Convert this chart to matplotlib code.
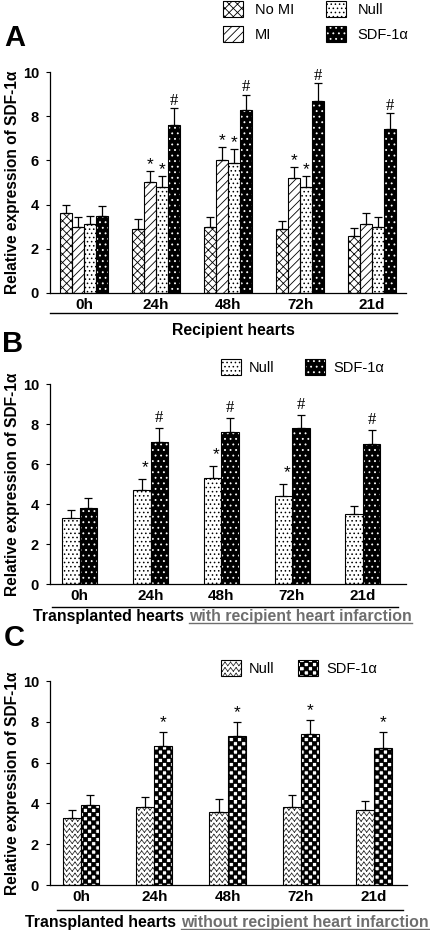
import warnings
import matplotlib
matplotlib.use("Agg")
import matplotlib.pyplot as plt
import numpy as np
from matplotlib import hatch as mhatch
from matplotlib.path import Path
from matplotlib.lines import Line2D
from matplotlib.patches import Rectangle

warnings.filterwarnings("ignore")

plt.rcParams["font.family"] = ["Liberation Sans", "DejaVu Sans"]
plt.rcParams["hatch.linewidth"] = 0.6

times = ["0h", "24h", "48h", "72h", "21d"]

# --- Panel A: recipient hearts ---
a_names = ["No MI", "MI", "Null", "SDF-1\u03b1"]
a_no_mi = [3.6, 2.9, 3.0, 2.9, 2.6]
a_mi = [3.0, 5.0, 6.0, 5.2, 3.1]
a_null = [3.1, 4.8, 5.9, 4.8, 3.0]
a_sdf = [3.5, 7.6, 8.3, 8.7, 7.4]
a_no_mi_err = [0.4, 0.45, 0.42, 0.38, 0.35]
a_mi_err = [0.42, 0.5, 0.6, 0.5, 0.5]
a_null_err = [0.4, 0.5, 0.6, 0.5, 0.42]
a_sdf_err = [0.42, 0.77, 0.68, 0.78, 0.75]
a_star = ["", "*", "*", "*", ""]
a_hash = ["", "#", "#", "#", "#"]

# --- Panel B: transplanted hearts, with recipient infarction ---
b_names = ["Null", "SDF-1\u03b1"]
b_null = [3.3, 4.7, 5.3, 4.4, 3.5]
b_null_err = [0.38, 0.55, 0.6, 0.58, 0.38]
b_sdf = [3.8, 7.1, 7.6, 7.8, 7.0]
b_sdf_err = [0.48, 0.7, 0.7, 0.65, 0.68]
b_star = ["", "*", "*", "*", ""]
b_hash = ["", "#", "#", "#", "#"]

# --- Panel C: transplanted hearts, without recipient infarction ---
c_names = ["Null", "SDF-1\u03b1"]
c_null = [3.3, 3.8, 3.6, 3.8, 3.7]
c_null_err = [0.4, 0.52, 0.6, 0.62, 0.41]
c_sdf = [3.9, 6.8, 7.3, 7.4, 6.7]
c_sdf_err = [0.52, 0.7, 0.7, 0.7, 0.8]
c_star = ["", "*", "*", "*", "*"]


# custom hatches: zigzag ('z') and checkerboard ('k')
class ZigZagHatch(mhatch.HatchPatternBase):
    def __init__(self, hatch, density):
        self.num_rows = hatch.count("z") * density
        self.num_vertices = self.num_rows * self.num_rows * 4

    def set_vertices_and_codes(self, vertices, codes):
        n = self.num_rows
        d = 1.0 / n
        amp = 0.33 * d
        i = 0
        for r in range(n):
            y0 = (r + 0.5) * d
            for c in range(n):
                x0 = c * d
                p0 = (x0, y0 - amp)
                p1 = (x0 + d / 2, y0 + amp)
                p2 = (x0 + d, y0 - amp)
                vertices[i:i + 4] = [p0, p1, p1, p2]
                i += 4
        codes[0::2] = Path.MOVETO
        codes[1::2] = Path.LINETO


class CheckerHatch(mhatch.HatchPatternBase):
    filled = True

    def __init__(self, hatch, density):
        self.num_rows = hatch.count("k") * density
        self.num_vertices = (self.num_rows * self.num_rows // 2) * 5

    def set_vertices_and_codes(self, vertices, codes):
        n = self.num_rows
        d = 1.0 / n
        i = 0
        for r in range(n):
            for c in range(n):
                if (r + c) % 2:
                    continue
                x0, y0 = c * d, r * d
                vertices[i:i + 5] = [(x0, y0), (x0 + d, y0), (x0 + d, y0 + d),
                                     (x0, y0 + d), (x0, y0)]
                codes[i:i + 5] = [Path.MOVETO, Path.LINETO, Path.LINETO,
                                  Path.LINETO, Path.CLOSEPOLY]
                i += 5


mhatch._hatch_types.append(ZigZagHatch)
mhatch._hatch_types.append(CheckerHatch)

# bar styles: (face, hatch, hatch colour)
st_no_mi = ("white", "xxxx", "black")
st_mi = ("white", "////", "black")
st_null = ("white", "....", "black")
st_sdf = ("black", "...", "white")
st_zig = ("white", "zzz", "#333333")
st_chk = ("white", "kkkk", "black")

W, H = 430, 930


def fx(x, y):
    return (x / W, 1 - y / H)


def rect(l, t, r, b):
    return [l / W, 1 - b / H, (r - l) / W, (b - t) / H]


def draw_bars(ax, x, vals, errs, width, style):
    face, hatch, hcol = style
    ax.bar(x, vals, width, color=face, edgecolor=hcol, hatch=hatch,
           linewidth=0, zorder=2)
    ax.bar(x, vals, width, facecolor="none", edgecolor="black",
           linewidth=0.8, zorder=3,
           yerr=[np.zeros(len(vals)), errs],
           error_kw=dict(ecolor="black", elinewidth=0.9, capsize=3,
                         capthick=0.9, zorder=4))


def proxy(style):
    face, hatch, hcol = style
    return (Rectangle((0, 0), 1, 1, facecolor=face, edgecolor=hcol,
                      hatch=hatch, linewidth=0),
            Rectangle((0, 0), 1, 1, facecolor="none", edgecolor="black",
                      linewidth=0.8))


def style_axis(ax, xlim):
    ax.set_xlim(*xlim)
    ax.set_ylim(0, 10)
    ax.spines["top"].set_visible(False)
    ax.spines["right"].set_visible(False)
    ax.spines["left"].set_linewidth(0.9)
    ax.spines["bottom"].set_linewidth(0.9)
    ax.set_yticks(range(0, 11, 2), labels=[str(v) for v in range(0, 11, 2)],
                  fontweight="bold", fontsize=10.5)
    ax.set_xticks(np.arange(len(times)), labels=times, fontweight="bold",
                  fontsize=11)
    ax.tick_params(axis="y", direction="out", length=3, width=0.8, pad=5)
    ax.tick_params(axis="x", length=0, pad=3.5)
    ax.set_ylabel("Relative expression of SDF-1\u03b1", fontweight="bold",
                  fontsize=11.2)
    ax.yaxis.set_label_coords(-0.085, 0.5)


def marks(ax, xs, tops, flags, dy, **kw):
    for xi, top, f in zip(xs, tops, flags):
        if f:
            ax.text(xi, top + dy, f, ha="center", va="baseline", **kw)


fig = plt.figure(figsize=(4.3, 9.3), dpi=100)
x = np.arange(len(times))
star_kw = dict(fontsize=12.5)
hash_kw = dict(fontsize=12, family="Liberation Serif")

# ---------------- A ----------------
ax = fig.add_axes(rect(50, 72, 406, 293))
w = 0.167
series = [(a_no_mi, a_no_mi_err, st_no_mi), (a_mi, a_mi_err, st_mi),
          (a_null, a_null_err, st_null), (a_sdf, a_sdf_err, st_sdf)]
for k, (v, e, s) in enumerate(series):
    draw_bars(ax, x + (k - 1.5) * w, v, e, w, s)
style_axis(ax, (-0.472, 4.47))
marks(ax, x - 0.5 * w, np.add(a_mi, a_mi_err), a_star, 0.1, **star_kw)
marks(ax, x + 0.5 * w, np.add(a_null, a_null_err), a_star, 0.1, **star_kw)
marks(ax, x + 1.5 * w, np.add(a_sdf, a_sdf_err), a_hash, 0.15, **hash_kw)
ax.legend([proxy(s) for s in (st_no_mi, st_mi, st_null, st_sdf)], a_names,
          ncol=2, loc="upper left", bbox_to_anchor=fx(223, 1),
          bbox_transform=fig.transFigure, frameon=False, borderpad=0,
          borderaxespad=0, handlelength=1.37, handleheight=1.3,
          handletextpad=0.8, labelspacing=0.65, columnspacing=2.2,
          fontsize=10.5)

# ---------------- B ----------------
ax = fig.add_axes(rect(50, 384, 406, 584))
w = 0.247
draw_bars(ax, x - w / 2, b_null, b_null_err, w, st_null)
draw_bars(ax, x + w / 2, b_sdf, b_sdf_err, w, st_sdf)
style_axis(ax, (-0.42, 4.61))
marks(ax, x - w / 2 + 0.05, np.add(b_null, b_null_err), b_star, 0.35, **star_kw)
marks(ax, x + w / 2, np.add(b_sdf, b_sdf_err), b_hash, 0.3, **hash_kw)
ax.legend([proxy(s) for s in (st_null, st_sdf)], b_names,
          ncol=2, loc="upper left", bbox_to_anchor=fx(221, 359),
          bbox_transform=fig.transFigure, frameon=False, borderpad=0,
          borderaxespad=0, handlelength=1.37, handleheight=1.3,
          handletextpad=0.55, labelspacing=0.65, columnspacing=2.1,
          fontsize=10.5)

# ---------------- C ----------------
ax = fig.add_axes(rect(50, 681, 407, 885))
w = 0.247
draw_bars(ax, x - w / 2, c_null, c_null_err, w, st_zig)
draw_bars(ax, x + w / 2, c_sdf, c_sdf_err, w, st_chk)
style_axis(ax, (-0.425, 4.45))
marks(ax, x + w / 2, np.add(c_sdf, c_sdf_err), c_star, 0.25, **star_kw)
ax.legend([proxy(s) for s in (st_zig, st_chk)], c_names,
          ncol=2, loc="upper left", bbox_to_anchor=fx(221, 660),
          bbox_transform=fig.transFigure, frameon=False, borderpad=0,
          borderaxespad=0, handlelength=1.37, handleheight=1.3,
          handletextpad=0.55, labelspacing=0.65, columnspacing=1.6,
          fontsize=10.5)

# panel letters
for letter, (px_, py_) in zip("ABC", [(4, 38), (2, 344), (4, 638)]):
    fig.text(*fx(px_, py_), letter, fontsize=21, fontweight="bold",
             va="center", ha="left")

# group rules and captions
for (x0, x1, yy) in [(50, 397, 313), (52, 398, 607), (57, 403, 910)]:
    fig.add_artist(Line2D([x0 / W, x1 / W], [1 - yy / H, 1 - yy / H],
                          transform=fig.transFigure, color="black", lw=1))

fig.text(*fx(233, 330), "Recipient hearts", fontsize=11.3, fontweight="bold",
         ha="center", va="center")

renderer = fig.canvas.get_renderer()
for left, yy, tail in [(33, 617, "with recipient heart infarction"),
                       (25, 922, "without recipient heart infarction")]:
    t1 = fig.text(*fx(left, yy), "Transplanted hearts", fontsize=11.4,
                  fontweight="bold", ha="left", va="center")
    bb1 = t1.get_window_extent(renderer)
    t2 = fig.text((bb1.x1 + 5) / W, 1 - yy / H, tail, fontsize=11.4,
                  fontweight="bold", color="#6e6e6e", ha="left", va="center")
    bb2 = t2.get_window_extent(renderer)
    uy = (bb2.y0 + 1) / H
    fig.add_artist(Line2D([bb2.x0 / W, bb2.x1 / W], [uy, uy],
                          transform=fig.transFigure, color="#6e6e6e", lw=1))

fig.savefig("out.png", dpi=100)
